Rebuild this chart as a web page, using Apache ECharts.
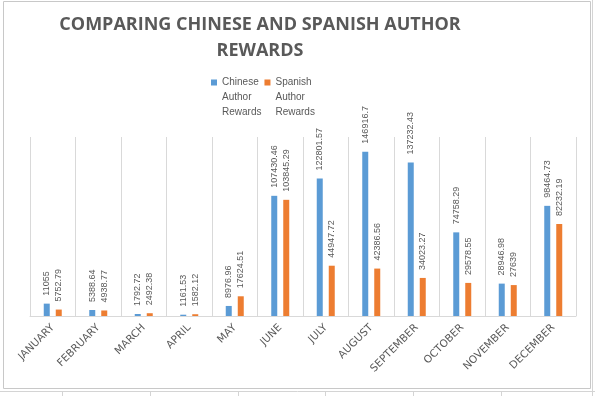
<!DOCTYPE html>
<html>
<head>
<meta charset="utf-8">
<script src="https://cdn.jsdelivr.net/npm/echarts@6/dist/echarts.min.js"></script>
<style>
  html, body { margin: 0; padding: 0; background: #fff; }
  #main { width: 595px; height: 396px; }
</style>
</head>
<body>
<div id="main"></div>
<script>
// data
var months = ['JANUARY', 'FEBRUARY', 'MARCH', 'APRIL', 'MAY', 'JUNE', 'JULY',
  'AUGUST', 'SEPTEMBER', 'OCTOBER', 'NOVEMBER', 'DECEMBER'];
var chineseRewards = [11055, 5388.64, 1792.72, 1161.53, 8976.96, 107430.46, 122801.57,
  146916.7, 137232.43, 74758.29, 28946.98, 98464.73];
var spanishRewards = [5752.79, 4938.77, 2492.38, 1582.12, 17624.51, 103845.29, 44947.72,
  42386.56, 34023.27, 29578.55, 27639, 82232.19];

var grey = '#595959';
var lineGrey = '#d9d9d9';

var chart = echarts.init(document.getElementById('main'));

// data labels, rotated to read bottom-to-top
var valueLabel = {
  show: true,
  position: 'top',
  rotate: 90,
  align: 'left',
  verticalAlign: 'middle',
  distance: 8,
  color: grey,
  fontFamily: 'Liberation Sans',
  fontSize: 9,
  formatter: function (p) { return String(p.value); }
};

// legend square sits on the first line of the 3-line name:
// 6x6 square at the top of a 6x36 box (the bottom stroke is just a zero-area spacer)
var legendIcon = 'path://M0,0L6,0L6,6L0,6Z M0,36L6,36';

chart.setOption({
  animation: false,
  title: {
    text: 'COMPARING CHINESE AND SPANISH AUTHOR\nREWARDS',
    left: 260,
    top: 12,
    textAlign: 'center',
    padding: 0,
    textStyle: {
      fontFamily: 'Open Sans',
      fontWeight: 'bold',
      fontSize: 18,
      lineHeight: 26,
      color: grey
    }
  },
  legend: {
    left: 211,
    top: 75,
    icon: legendIcon,
    itemWidth: 6,
    itemHeight: 36,
    itemGap: 3,
    padding: 0,
    formatter: function (name) { return name.split(' ').join('\n'); },
    textStyle: {
      fontFamily: 'Liberation Sans',
      fontSize: 10,
      lineHeight: 15,
      color: grey
    }
  },
  grid: { left: 30, right: 19, top: 137, bottom: 80 },
  xAxis: {
    type: 'category',
    data: months,
    axisLine: { lineStyle: { color: lineGrey } },
    axisTick: { show: false },
    splitLine: { show: true, lineStyle: { color: lineGrey } },
    axisLabel: {
      rotate: 45,
      margin: 10,
      interval: 0,
      color: grey,
      fontFamily: 'DejaVu Sans',
      fontSize: 10.5
    }
  },
  yAxis: {
    type: 'value',
    min: 0,
    max: 160000,
    show: false,
    splitLine: { show: false }
  },
  series: [
    {
      name: 'Chinese Author Rewards',
      type: 'bar',
      data: chineseRewards,
      barWidth: 6,
      barGap: '100%',
      itemStyle: { color: '#5b9bd5' },
      label: valueLabel
    },
    {
      name: 'Spanish Author Rewards',
      type: 'bar',
      data: spanishRewards,
      barWidth: 6,
      itemStyle: { color: '#ed7d31' },
      label: valueLabel
    }
  ],
  graphic: [
    // chart frame
    {
      type: 'rect',
      shape: { x: 3.5, y: 1.5, width: 587, height: 387 },
      style: { fill: null, stroke: '#c8c8c8', lineWidth: 1 },
      silent: true
    },
    // spreadsheet cells under the chart
    {
      type: 'group',
      silent: true,
      children: [
        { type: 'line', shape: { x1: 0, y1: 391.5, x2: 595, y2: 391.5 }, style: { stroke: '#d4d4d4' } },
        { type: 'line', shape: { x1: 592.5, y1: 0, x2: 592.5, y2: 396 }, style: { stroke: '#d4d4d4' } },
        { type: 'line', shape: { x1: 62.5, y1: 391, x2: 62.5, y2: 396 }, style: { stroke: '#d4d4d4' } },
        { type: 'line', shape: { x1: 150.5, y1: 391, x2: 150.5, y2: 396 }, style: { stroke: '#d4d4d4' } },
        { type: 'line', shape: { x1: 238.5, y1: 391, x2: 238.5, y2: 396 }, style: { stroke: '#d4d4d4' } },
        { type: 'line', shape: { x1: 325.5, y1: 391, x2: 325.5, y2: 396 }, style: { stroke: '#d4d4d4' } },
        { type: 'line', shape: { x1: 413.5, y1: 391, x2: 413.5, y2: 396 }, style: { stroke: '#d4d4d4' } },
        { type: 'line', shape: { x1: 501.5, y1: 391, x2: 501.5, y2: 396 }, style: { stroke: '#d4d4d4' } }
      ]
    }
  ]
});
</script>
</body>
</html>
